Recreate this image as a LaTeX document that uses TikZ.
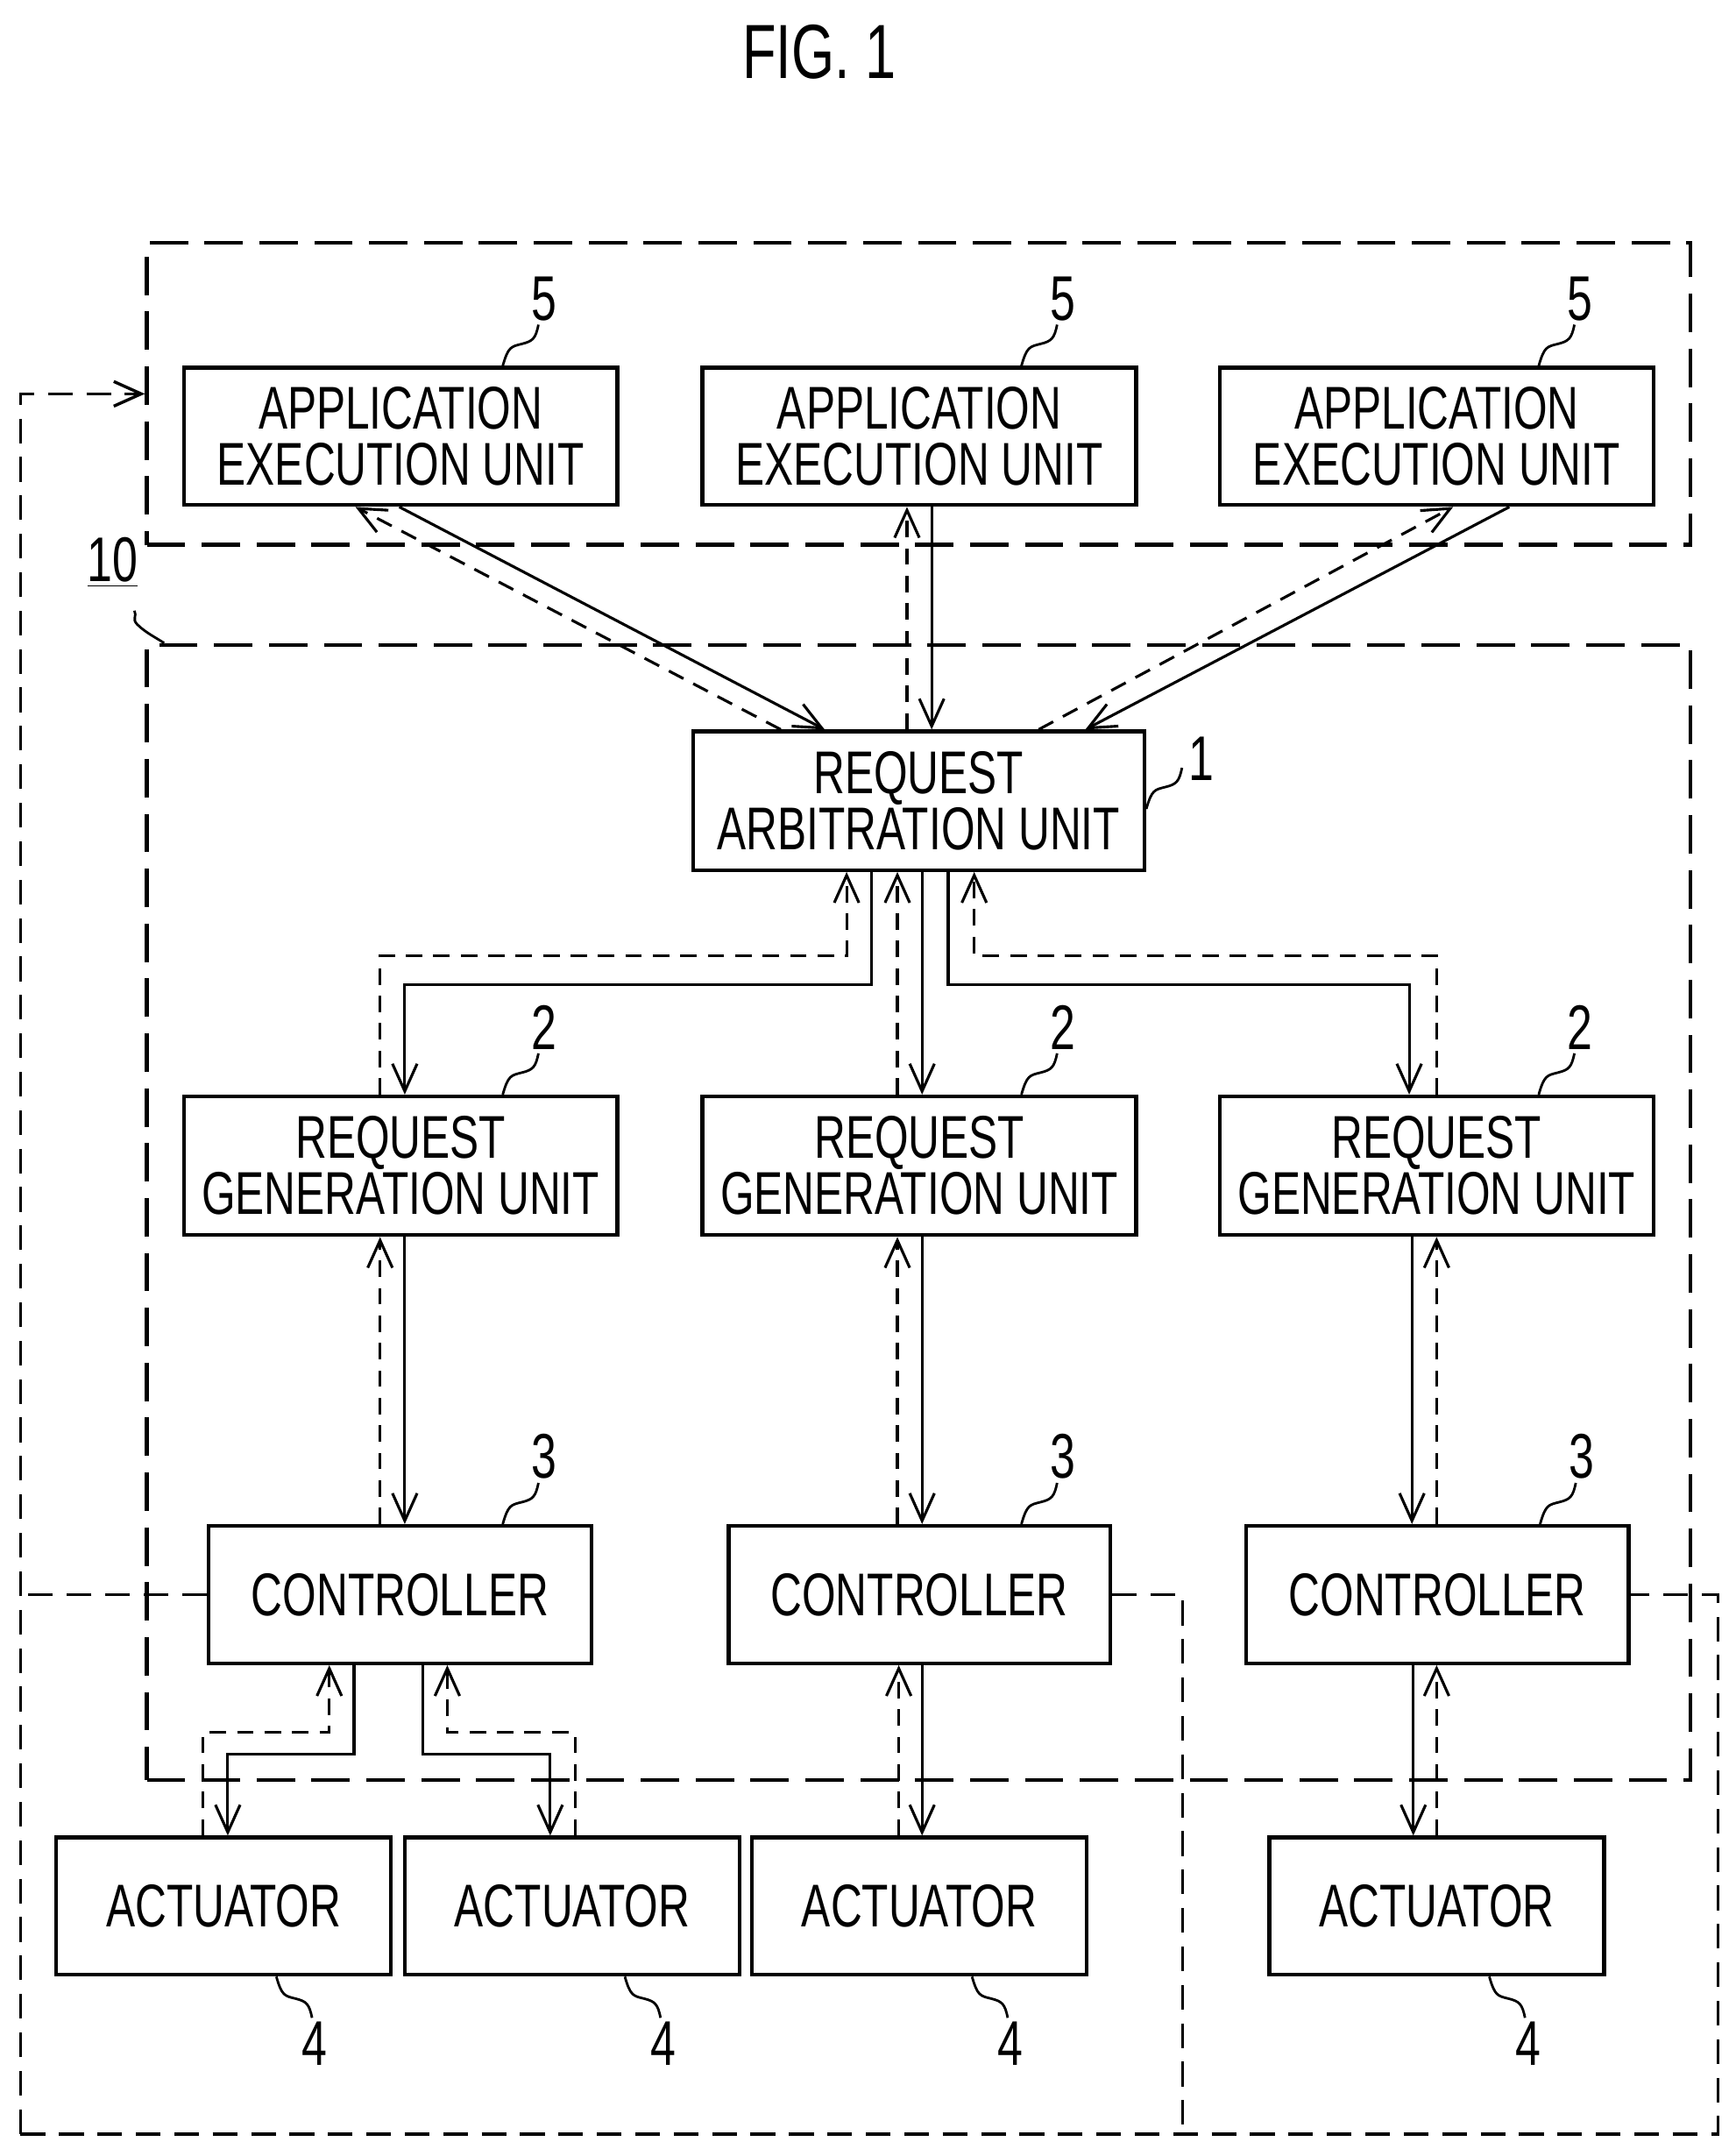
\documentclass[tikz,border=0pt]{standalone}
\usepackage{fontspec}
\setmainfont[FakeStretch=0.72]{Liberation Sans}
\usetikzlibrary{arrows.meta}
\begin{document}
\begin{tikzpicture}[x=0.5pt,y=-0.5pt,
  box/.style={draw,line width=1.4pt,minimum width=158pt,minimum height=50pt,inner sep=0pt,align=center,font=\fontsize{22}{20.5}\selectfont},
  dbox/.style={draw,line width=1.4pt,dash pattern=on 14pt off 6pt,inner sep=0pt},
  loopd/.style={line width=1.1pt,dash pattern=on 9pt off 5pt},
  sl/.style={line width=1pt,-{Straight Barb[length=10pt,width=9pt]}},
  dl/.style={line width=1pt,dash pattern=on 6pt off 4pt,-{Straight Barb[length=10pt,width=9pt]}},
  lbl/.style={font=\fontsize{23}{23}\selectfont,inner sep=1pt},
  ld/.style={line width=0.9pt}]
\useasboundingbox (0,0) rectangle (1265,1566);
\node[font=\fontsize{28}{28}\selectfont] (title) at (597,38) {FIG. 1};
% dashed enclosures
\node[dbox,minimum width=562.5pt,minimum height=110pt] (top) at (669.5,287) {};
\node[dbox,minimum width=562.5pt,minimum height=413.5pt] (ten) at (669.5,883.5) {};
% boxes
\node[box] (app1) at (292,318) {APPLICATION\\EXECUTION UNIT};
\node[box] (app2) at (670,318) {APPLICATION\\EXECUTION UNIT};
\node[box] (app3) at (1047,318) {APPLICATION\\EXECUTION UNIT};
\node[box,minimum width=164.5pt,minimum height=50.5pt] (arb) at (669.5,583.5) {REQUEST\\ARBITRATION UNIT};
\node[box,minimum height=50.5pt] (gen1) at (292,849.5) {REQUEST\\GENERATION UNIT};
\node[box,minimum height=50.5pt] (gen2) at (670,849.5) {REQUEST\\GENERATION UNIT};
\node[box,minimum height=50.5pt] (gen3) at (1047,849.5) {REQUEST\\GENERATION UNIT};
\node[box,minimum width=139.5pt] (ctl1) at (291.5,1162) {CONTROLLER};
\node[box,minimum width=139pt] (ctl2) at (670,1162) {CONTROLLER};
\node[box,minimum width=139.5pt] (ctl3) at (1047.5,1162) {CONTROLLER};
\node[box,minimum width=122pt] (act1) at (163,1389) {ACTUATOR};
\node[box,minimum width=122pt] (act2) at (417,1389) {ACTUATOR};
\node[box,minimum width=122pt] (act3) at (670,1389) {ACTUATOR};
\node[box,minimum width=122pt] (act4) at (1047,1389) {ACTUATOR};
% bottom dashed loops
\coordinate (lb) at (15,1555);
\coordinate (mb) at (862,1555);
\coordinate (rb) at (1252,1555);
\draw[loopd] (ctl1.west) -- (ctl1.west -| lb);
\draw[loopd,-{Straight Barb[length=10pt,width=9pt]}] (lb) -- (lb |- top.west) -- (top.west);
\draw[loopd] (lb) -- (rb) -- (rb |- ctl3.east) -- (ctl3.east);
\draw[loopd] (ctl2.east) -| (mb);
% app <-> arb
\draw[sl] ([xshift=-0.5pt]app1.south) -- ([xshift=-34.25pt]arb.north);
\draw[dl] ([xshift=-50.25pt]arb.north) -- ([xshift=-16.5pt]app1.south);
\draw[dl] ([xshift=-4.5pt]app2.south |- arb.north) -- ([xshift=-4.5pt]app2.south);
\draw[sl] ([xshift=4.5pt]app2.south) -- ([xshift=4.5pt]app2.south |- arb.north);
\draw[dl] ([xshift=43.75pt]arb.north) -- ([xshift=6pt]app3.south);
\draw[sl] ([xshift=26.5pt]app3.south) -- ([xshift=60.75pt]arb.north);
% arb <-> gen
\draw[dl] ([xshift=-7.5pt]gen1.north) |- ([xshift=-26.25pt,yshift=-30.5pt]arb.south) -- ([xshift=-26.25pt]arb.south);
\draw[sl] ([xshift=-17.25pt]arb.south) -- ++(0pt,-41pt) -| ([xshift=1.5pt]gen1.north);
\draw[dl] ([xshift=-8pt]gen2.north) -- ([xshift=-8pt]gen2.north |- arb.south);
\draw[sl] ([xshift=1pt]gen2.north |- arb.south) -- ([xshift=1pt]gen2.north);
\draw[sl] ([xshift=10.75pt]arb.south) -- ++(0pt,-41pt) -| ([xshift=-10pt]gen3.north);
\draw[dl] (gen3.north) |- ([xshift=20.25pt,yshift=-30.5pt]arb.south) -- ([xshift=20.25pt]arb.south);
% gen <-> ctl
\draw[dl] ([xshift=-7.5pt]gen1.south |- ctl1.north) -- ([xshift=-7.5pt]gen1.south);
\draw[sl] ([xshift=1.5pt]gen1.south) -- ([xshift=1.5pt]gen1.south |- ctl1.north);
\draw[dl] ([xshift=-8pt]gen2.south |- ctl2.north) -- ([xshift=-8pt]gen2.south);
\draw[sl] ([xshift=1pt]gen2.south) -- ([xshift=1pt]gen2.south |- ctl2.north);
\draw[sl] ([xshift=-9pt]gen3.south) -- ([xshift=-9pt]gen3.south |- ctl3.north);
\draw[dl] (gen3.south |- ctl3.north) -- (gen3.south);
% ctl <-> act
\draw[dl] ([xshift=-7.5pt]act1.north) |- ([xshift=-25.75pt,yshift=-24.5pt]ctl1.south) -- ([xshift=-25.75pt]ctl1.south);
\draw[sl] ([xshift=-16.75pt]ctl1.south) -- ++(0pt,-32.5pt) -| ([xshift=1.5pt]act1.north);
\draw[sl] ([xshift=8.25pt]ctl1.south) -- ++(0pt,-32.5pt) -| ([xshift=-8pt]act2.north);
\draw[dl] ([xshift=1pt]act2.north) |- ([xshift=17.25pt,yshift=-24.5pt]ctl1.south) -- ([xshift=17.25pt]ctl1.south);
\draw[dl] ([xshift=-7.5pt]act3.north) -- ([xshift=-7.5pt]act3.north |- ctl2.south);
\draw[sl] ([xshift=1pt]act3.north |- ctl2.south) -- ([xshift=1pt]act3.north);
\draw[sl] ([xshift=-8.5pt]act4.north |- ctl3.south) -- ([xshift=-8.5pt]act4.north);
\draw[dl] (act4.north) -- (act4.north |- ctl3.south);
% reference numeral leaders
\foreach \n/\lab in {app1/5,app2/5,app3/5,gen1/2,gen2/2,gen3/2}{
  \draw[ld] ([xshift=-42.5pt]\n.north east) .. controls +(4,-14) and +(-8,2) .. ++(14,-16)
     .. controls +(8,-2) and +(-2,10) .. ++(12,-14) node[lbl,anchor=south west,xshift=-4pt] (l\n) {\lab};}
\foreach \n/\lab in {ctl1/3,ctl2/3,ctl3/3}{
  \draw[ld] ([xshift=-33pt]\n.north east) .. controls +(4,-14) and +(-8,2) .. ++(14,-16)
     .. controls +(8,-2) and +(-2,10) .. ++(12,-14) node[lbl,anchor=south west,xshift=-4pt] (l\n) {\lab};}
\draw[ld] ([yshift=-3pt]arb.east) .. controls +(4,-14) and +(-8,2) .. ++(14,-16)
     .. controls +(8,-2) and +(-2,10) .. ++(12,-14) node[lbl,anchor=south west,xshift=1pt,yshift=-6pt] (larb) {1};
\foreach \n in {act1,act2,act3,act4}{
  \draw[ld] ([xshift=-42.5pt]\n.south east) .. controls +(4,14) and +(-8,-2) .. ++(14,16)
     .. controls +(8,2) and +(-2,-10) .. ++(12,14) node[lbl,anchor=north west,xshift=-5pt] (l\n) {4};}
\node[lbl] (lten) at (82,410) {\underline{10}};
\draw[ld] ([xshift=7pt]ten.north west) .. controls +(-6,-4) and +(6,6) .. (100,455) .. controls +(-4,-4) and +(2,4) .. (98,445);
\end{tikzpicture}
\end{document}
